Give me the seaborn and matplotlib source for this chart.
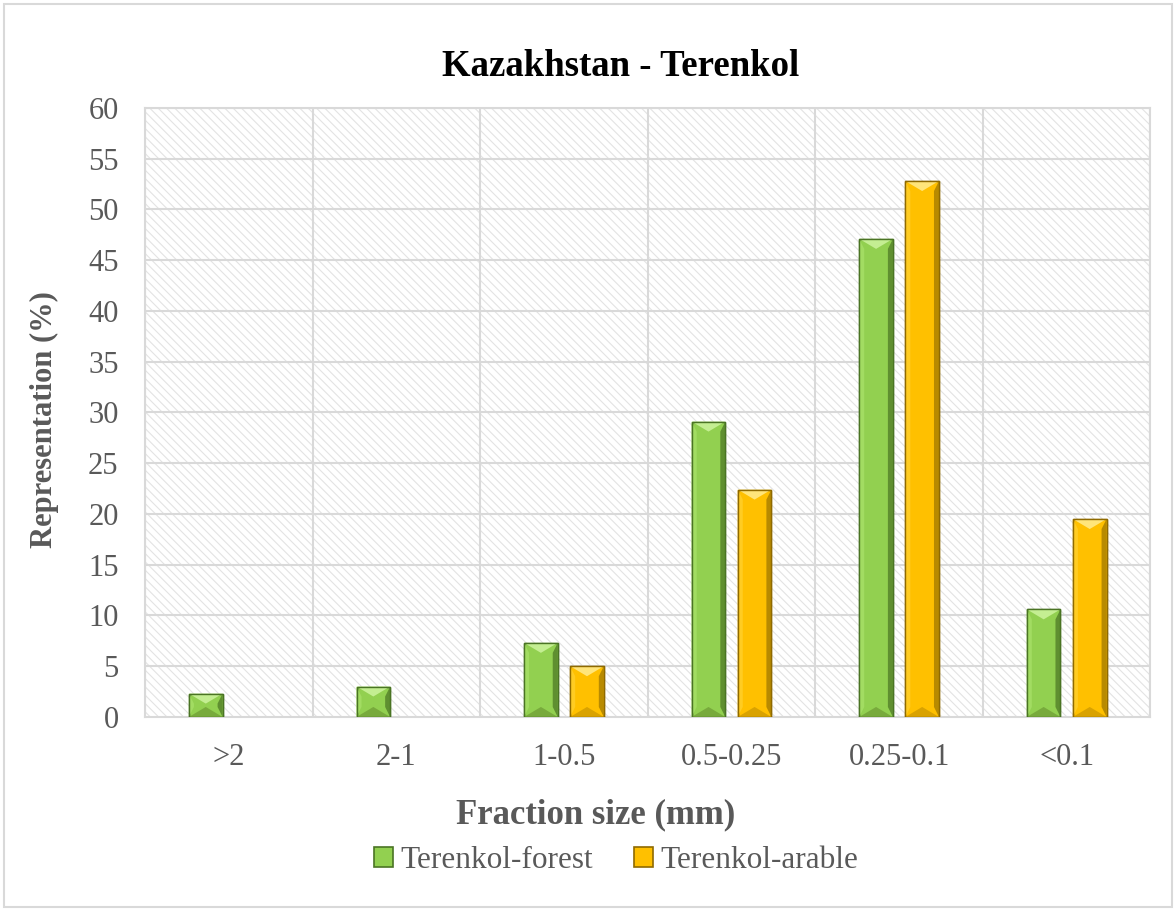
import matplotlib.pyplot as plt
import matplotlib.patches as mpatches
import seaborn as sns
import pandas as pd

# Datos
fractions = ['>2', '2-1', '1-0.5', '0.5-0.25', '0.25-0.1', '<0.1']
forest = [2.3, 3.0, 7.3, 29.1, 47.1, 10.6]
arable = [0.0, 0.0, 5.0, 22.4, 52.8, 19.5]
series_names = ['Terenkol-forest', 'Terenkol-arable']

data = pd.DataFrame({
    'Fraction': fractions * 2,
    'Value': forest + arable,
    'Series': [series_names[0]] * len(fractions) + [series_names[1]] * len(fractions),
})

sns.set_style('white')
serif = ['Liberation Serif', 'DejaVu Serif']
plt.rcParams['font.family'] = serif
plt.rcParams['hatch.linewidth'] = 0.8

gray = '#595959'
grid_c = '#d9d9d9'

fig = plt.figure(figsize=(11.76, 9.11), dpi=100)
ax = fig.add_axes([0.1233, 0.213, 0.855, 0.6685])

# Fondo rayado del área de trazado
ax.add_patch(mpatches.Rectangle((0, 0), 1, 1, transform=ax.transAxes,
                                facecolor='white', edgecolor='#e3e3e3',
                                hatch='\\\\\\\\', linewidth=0, zorder=0))

palette = {'Terenkol-forest': '#92d050', 'Terenkol-arable': '#ffc000'}
edges = {'Terenkol-forest': '#4a7424', 'Terenkol-arable': '#8f6a00'}
tops = {'Terenkol-forest': '#c4ee92', 'Terenkol-arable': '#ffe57a'}
lefts = {'Terenkol-forest': '#a2dc62', 'Terenkol-arable': '#ffcc22'}
rights = {'Terenkol-forest': '#5f8f30', 'Terenkol-arable': '#b88a00'}
bottoms = {'Terenkol-forest': '#78aa3c', 'Terenkol-arable': '#d9a200'}

sns.barplot(data=data, x='Fraction', y='Value', hue='Series', palette=palette,
            width=0.55, gap=0.27, saturation=1, ax=ax, zorder=3, legend=False)

ax.set_ylim(0, 60)
ax.set_xlim(-0.5, len(fractions) - 0.5)

# Efecto biselado de las barras (a partir de la geometría de cada barra)
fig.canvas.draw()
px_x = (ax.get_xlim()[1] - ax.get_xlim()[0]) / ax.get_window_extent().width
px_y = (ax.get_ylim()[1] - ax.get_ylim()[0]) / ax.get_window_extent().height
for container, name in zip(ax.containers, series_names):
    for bar in container:
        h = bar.get_height()
        if h <= 0:
            bar.set_visible(False)
            continue
        bar.set_edgecolor(edges[name])
        bar.set_linewidth(1.0)
        x0, w = bar.get_x(), bar.get_width()
        by = min(10 * px_y, h / 2)
        bx = min(w / 2, by / px_y * px_x * 1.7)
        side = 5 * px_x
        faces = [
            ([(x0, h), (x0 + w, h), (x0 + w - bx, h - by), (x0 + bx, h - by)], tops[name]),
            ([(x0, 0), (x0 + w, 0), (x0 + w - bx, by), (x0 + bx, by)], bottoms[name]),
            ([(x0 + w, h), (x0 + w, 0), (x0 + w - side, by), (x0 + w - side, h - by)], rights[name]),
            ([(x0, h), (x0, 0), (x0 + side, by), (x0 + side, h - by)], lefts[name]),
        ]
        for pts, col in faces:
            ax.add_patch(mpatches.Polygon(pts, closed=True, facecolor=col,
                                          edgecolor='none', zorder=3.5))
        ax.add_patch(mpatches.Rectangle((x0, 0), w, h, fill=False,
                                        edgecolor=edges[name], linewidth=1.0, zorder=3.6))

ax.set_yticks(range(0, 61, 5))
ax.set_xticks(range(len(fractions)))
ax.set_xticklabels(fractions)

# Cuadrícula en los límites de categoría
for y in range(5, 61, 5):
    ax.axhline(y, color=grid_c, linewidth=1.5, zorder=1)
for x in range(len(fractions) + 1):
    ax.axvline(x - 0.5, color=grid_c, linewidth=1.5, zorder=1)

for side_name in ['left', 'right', 'top', 'bottom']:
    ax.spines[side_name].set_color(grid_c)
    ax.spines[side_name].set_linewidth(1.5)

ax.tick_params(axis='both', length=0, labelsize=22, labelcolor=gray)
ax.tick_params(axis='x', pad=19)
ax.tick_params(axis='y', pad=19)

ax.set_xlabel('Fraction size (mm)', fontsize=25, fontweight='bold', color=gray)
ax.xaxis.set_label_coords(0.448, -0.133)
ax.set_ylabel('Representation (%)', fontsize=22, fontweight='bold', color=gray)
ax.yaxis.set_label_coords(-0.086, 0.488)
fig.text(0.528, 0.927, 'Kazakhstan - Terenkol', fontsize=26.5, fontweight='bold',
         color='black', ha='center', va='center', family=serif)

handles = [mpatches.Patch(facecolor=palette[n], edgecolor=edges[n], linewidth=1.2, label=n)
           for n in series_names]
fig.legend(handles=handles, loc='center', bbox_to_anchor=(0.524, 0.055), ncol=2,
           frameon=False, fontsize=22.5, labelcolor=gray, handlelength=0.6,
           handleheight=0.6, handletextpad=0.25, columnspacing=1.3)

# Borde exterior del gráfico
fig.add_artist(mpatches.Rectangle((0.003, 0.004), 0.994, 0.992, transform=fig.transFigure,
                                  fill=False, edgecolor=grid_c, linewidth=1.5))

plt.savefig('out.png', dpi=100)
plt.close()
